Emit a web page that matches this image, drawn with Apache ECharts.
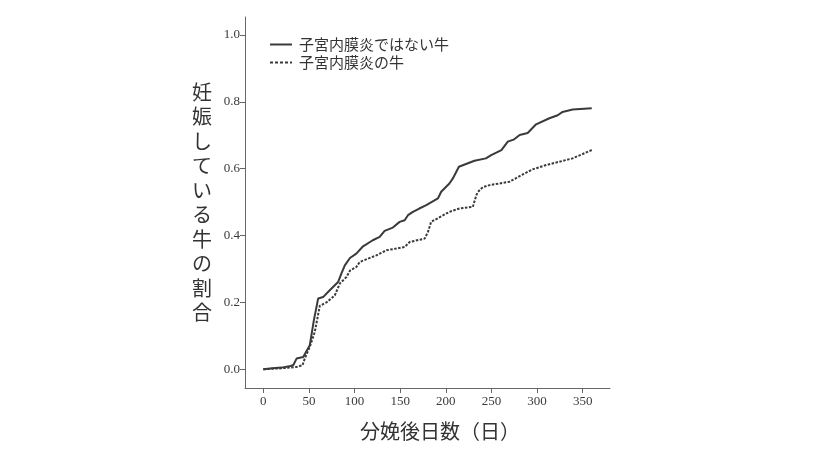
<!DOCTYPE html>
<html><head><meta charset="utf-8">
<script src="https://cdn.jsdelivr.net/npm/echarts@6/dist/echarts.min.js"></script>
<style>html,body{margin:0;padding:0;background:#fff}#c{width:820px;height:461px}</style>
</head><body><div id="c"></div>
<script>
const seriesNames = ['子宮内膜炎ではない牛', '子宮内膜炎の牛'];
const xTicks = [0, 50, 100, 150, 200, 250, 300, 350];
const yTicks = [0, 0.2, 0.4, 0.6, 0.8, 1.0];

const daysA = [0, 10, 20, 30, 33, 36.5, 43.8, 51, 55.5, 60.2, 65.6, 71, 82, 85.7, 89.4, 95, 102, 109.4, 120, 127.6, 133, 142, 149.5, 155, 158.6, 164, 171, 178.7, 191.4, 195, 204, 207.8, 214.4, 231.5, 244, 249.8, 261, 268, 275, 281, 289.8, 299, 313.6, 322.7, 328, 339, 360];
const valsA = [0, 0.003, 0.005, 0.01, 0.013, 0.032, 0.037, 0.072, 0.147, 0.212, 0.216, 0.231, 0.261, 0.287, 0.311, 0.333, 0.346, 0.368, 0.386, 0.396, 0.414, 0.424, 0.441, 0.446, 0.461, 0.471, 0.481, 0.491, 0.511, 0.531, 0.556, 0.571, 0.606, 0.624, 0.631, 0.641, 0.656, 0.681, 0.688, 0.701, 0.707, 0.733, 0.751, 0.760, 0.770, 0.777, 0.781];

const daysB = [0, 20, 36.5, 43, 45.6, 51, 56.5, 62, 69.3, 78.4, 84, 91.2, 95, 102, 105.8, 124, 135, 155, 160.5, 176.9, 180.5, 184, 204, 215, 229.7, 233.4, 235, 240.6, 248, 269.8, 281, 295, 310, 324.5, 339, 350, 360];
const valsB = [0, 0.003, 0.007, 0.012, 0.033, 0.067, 0.112, 0.19, 0.2, 0.221, 0.257, 0.276, 0.295, 0.306, 0.321, 0.341, 0.356, 0.366, 0.381, 0.391, 0.411, 0.441, 0.471, 0.481, 0.486, 0.52, 0.53, 0.545, 0.551, 0.561, 0.578, 0.598, 0.611, 0.621, 0.631, 0.644, 0.656];

const pairs = (xs, ys) => xs.map((x, i) => [x, ys[i]]);
const axisCol = '#666';
const cjk = '"Noto Sans CJK JP", "Noto Sans", sans-serif';
const serif = '"Liberation Serif", "DejaVu Serif", serif';

const chart = echarts.init(document.getElementById('c'), null, {renderer: 'canvas'});
chart.setOption({
  animation: false,
  backgroundColor: '#fff',
  grid: {left: 245, right: 210, top: 17, bottom: 73, containLabel: false},
  legend: {
    left: 265, top: 32, orient: 'vertical', itemGap: 3,
    itemWidth: 22, itemHeight: 14,
    textStyle: {fontFamily: cjk, fontSize: 15, color: '#333', padding: [0, 0, 0, 2]},
    data: [
      {name: seriesNames[0], icon: 'path://M0,6L22,6L22,8L0,8Z'},
      {name: seriesNames[1], icon: 'path://M0,6L3,6L3,8L0,8ZM5,6L8,6L8,8L5,8ZM10,6L13,6L13,8L10,8ZM15,6L18,6L18,8L15,8ZM20,6L22,6L22,8L20,8Z'}
    ]
  },
  xAxis: {
    type: 'value', min: -20, max: 380,
    name: '分娩後日数（日）', nameLocation: 'middle', nameGap: 33,
    nameTextStyle: {fontFamily: cjk, fontSize: 20, color: '#333', padding: [0, 0, 0, 25]},
    axisLine: {show: true, onZero: false, lineStyle: {color: axisCol, width: 1}},
    axisTick: {show: true, length: 5, customValues: xTicks, lineStyle: {color: axisCol}},
    axisLabel: {customValues: xTicks, fontFamily: serif, fontSize: 13, color: '#3a3a3a', margin: 7},
    splitLine: {show: false}
  },
  yAxis: {
    type: 'value', min: -0.056, max: 1.054,
    name: '妊\n娠\nし\nて\nい\nる\n牛\nの\n割\n合', nameLocation: 'middle', nameGap: 43, nameRotate: 0,
    nameTextStyle: {fontFamily: cjk, fontSize: 20, lineHeight: 24.5, color: '#333', align: 'center', verticalAlign: 'middle', padding: [0, 0, 9, 0]},
    axisLine: {show: true, onZero: false, lineStyle: {color: axisCol, width: 1}},
    axisTick: {show: true, length: 5, customValues: yTicks, lineStyle: {color: axisCol}},
    axisLabel: {customValues: yTicks, fontFamily: serif, fontSize: 13, color: '#3a3a3a', margin: 5,
      formatter: v => v.toFixed(1)},
    splitLine: {show: false}
  },
  series: [
    {name: seriesNames[0], type: 'line', data: pairs(daysA, valsA), showSymbol: false, symbol: 'none',
      lineStyle: {color: '#3a3a3a', width: 2}, itemStyle: {color: '#3a3a3a'}},
    {name: seriesNames[1], type: 'line', data: pairs(daysB, valsB), showSymbol: false, symbol: 'none',
      lineStyle: {color: '#3a3a3a', width: 2, type: [2.5, 1.5]}, itemStyle: {color: '#3a3a3a'}}
  ]
});
</script></body></html>
